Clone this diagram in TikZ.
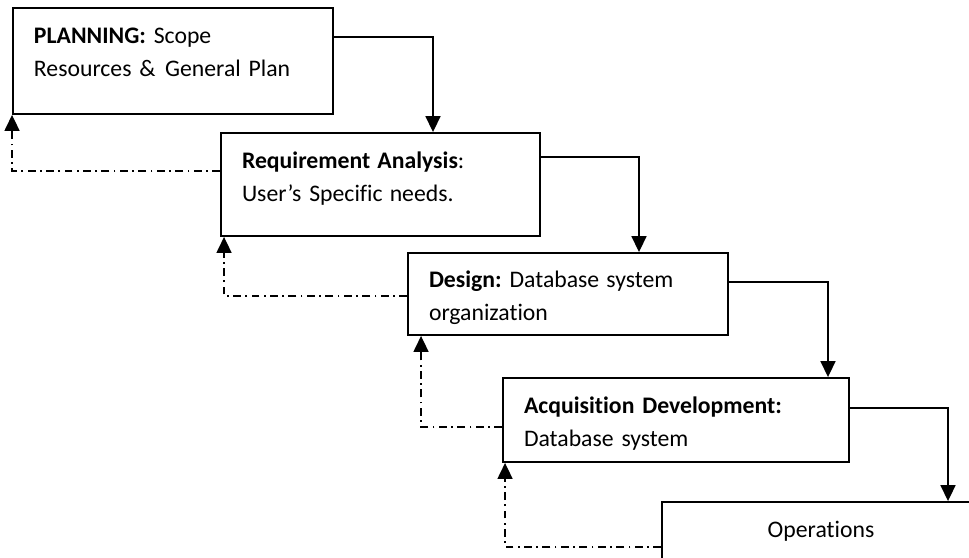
\documentclass[tikz,border=0pt]{standalone}
\usepackage{fontspec}
\setmainfont{Carlito}[Ligatures={TeX,NoCommon}]
\usepackage{tikz}
\usetikzlibrary{positioning,arrows.meta,calc}
\tikzset{
    on grid,
    auto,
    block/.style = {
        draw,
        shape=rectangle,
        align=left,
        inner xsep=0.42cm,
        text height=0.3cm,
        line width=1.1pt
    },
    flow/.style = {
        draw,
        line width=0.8pt
    },
    back/.style = {
        draw,
        line width=0.8pt,
        dash pattern=on 4.5pt off 2.5pt on 1pt off 2.5pt
    },
    >={Triangle[length=9pt,width=8.5pt]},
}

\begin{document}
\begin{tikzpicture}[font=\fontsize{13.5}{19}\selectfont\frenchspacing]
        \useasboundingbox (-3.46,1.22) rectangle (15.92,-9.92);

        \node[block, text width=5.56cm, minimum height=2.12cm, text depth=1.02cm] (plan)
            {\textbf{PLANNING:} Scope\\Resources \&\hspace{0.4em}General Plan};
        \node[block, text width=5.54cm, minimum height=2.06cm, text depth=0.96cm,
            below right=2.47cm and 4.15cm of plan] (req)
            {\textbf{Requirement\hspace{0.3em}Analysis}:\\User's Specific\hspace{0.3em}needs.};
        \node[block, text width=5.56cm, minimum height=1.64cm, text depth=0.58cm,
            below right=2.19cm and 3.75cm of req] (design)
            {\textbf{Design:} Database\hspace{0.3em}system\\organization};
        \node[block, text width=6.08cm, minimum height=1.68cm, text depth=0.58cm,
            below right=2.52cm and 2.16cm of design] (acq)
            {\textbf{Acquisition Development:}\\Database system};
        \node[block, align=center, text width=5.52cm, minimum height=1.68cm, text depth=0.58cm,
            below right=2.48cm and 2.9cm of acq] (ops) {Operations};

        % forward steps
        \path[flow, ->] ([yshift=0.48cm]plan.east) -| ([xshift=1.05cm]req.north);
        \path[flow, ->] ([yshift=0.55cm]req.east) -| ([xshift=1.42cm]design.north);
        \path[flow, ->] ([yshift=0.24cm]design.east) -| ([xshift=3.04cm]acq.north);
        \path[flow, ->] ([yshift=0.24cm]acq.east) -| ([xshift=2.54cm]ops.north);

        % feedback to the step before
        \path[back, ->] ([yshift=0.27cm]req.west) -| (plan.south west);
        \path[back, ->] ([yshift=-0.04cm]design.west) -| ([xshift=0.08cm]req.south west);
        \path[back, ->] ([yshift=-0.14cm]acq.west) -| ([xshift=0.28cm]design.south west);
        \path[back, ->] ([yshift=-0.06cm]ops.west) -| ([xshift=0.06cm]acq.south west);
    \end{tikzpicture}
\end{document}
